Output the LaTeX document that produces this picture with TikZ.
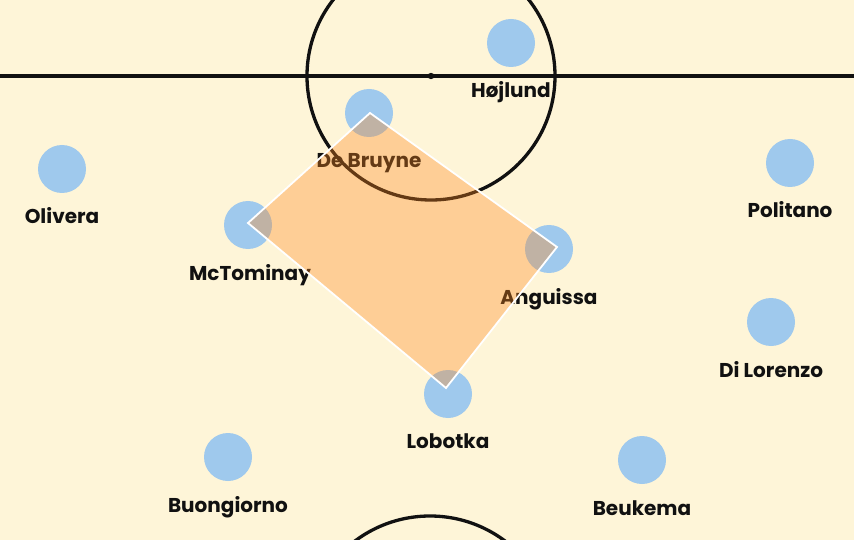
\documentclass[tikz,border=0pt]{standalone}
\usepackage{fontspec}
\setmainfont{Poppins}[BoldFont={* Bold}]
\definecolor{pitch}{RGB}{254,245,216}
\definecolor{player}{RGB}{159,201,237}
\definecolor{zone}{RGB}{255,136,29}
\definecolor{ink}{RGB}{17,17,17}
\begin{document}
\begin{tikzpicture}[x=1pt,y=-1pt,
  line/.style={draw=ink,line width=3.3pt},
  player/.style={circle,fill=player,minimum size=48pt,inner sep=0pt},
  pname/.style={anchor=base,font=\fontsize{20}{22}\selectfont\bfseries,text=ink,inner sep=0pt}]
\useasboundingbox (0,0) rectangle (854,540);
\fill[pitch] (0,0) rectangle (854,540);
\begin{scope}
\clip (0,0) rectangle (854,540);
\draw[line] (0,76) -- (854,76);
\draw[line] (431,76) circle[radius=124];
\fill[ink] (431,76) circle[radius=3.2];
\draw[line] (430,641) circle[radius=125];
\end{scope}
% players
\node[player] (hoj) at (511,43) {};
\node[player] (kdb) at (369,113) {};
\node[player] (oli) at (62,169) {};
\node[player] (mct) at (248,225) {};
\node[player] (ang) at (549,249) {};
\node[player] (pol) at (790,163) {};
\node[player] (dil) at (771,322) {};
\node[player] (lob) at (448,394) {};
\node[player] (buo) at (228,457) {};
\node[player] (beu) at (642,460) {};
% labels
\node[pname] (hojl) at (511,98) {Højlund};
\node[pname] (kdbl) at (369,168) {De Bruyne};
\node[pname] (olil) at (62,224) {Olivera};
\node[pname] (mctl) at (250,280) {McTominay};
\node[pname] (angl) at (549,304) {Anguissa};
\node[pname] (poll) at (790,218) {Politano};
\node[pname] (dill) at (771,377) {Di Lorenzo};
\node[pname] (lobl) at (448,448) {Lobotka};
\node[pname] (buol) at (228,512) {Buongiorno};
\node[pname] (beul) at (642,515) {Beukema};
% zone
\coordinate (z1) at (370,113);
\coordinate (z2) at (248,223);
\coordinate (z3) at (446,388);
\coordinate (z4) at (557,247);
\fill[zone,fill opacity=0.35] (z1) -- (z2) -- (z3) -- (z4) -- cycle;
\draw[white,line width=1.8pt,line join=miter] (z1) -- (z2) -- (z3) -- (z4) -- cycle;
\end{tikzpicture}
\end{document}
